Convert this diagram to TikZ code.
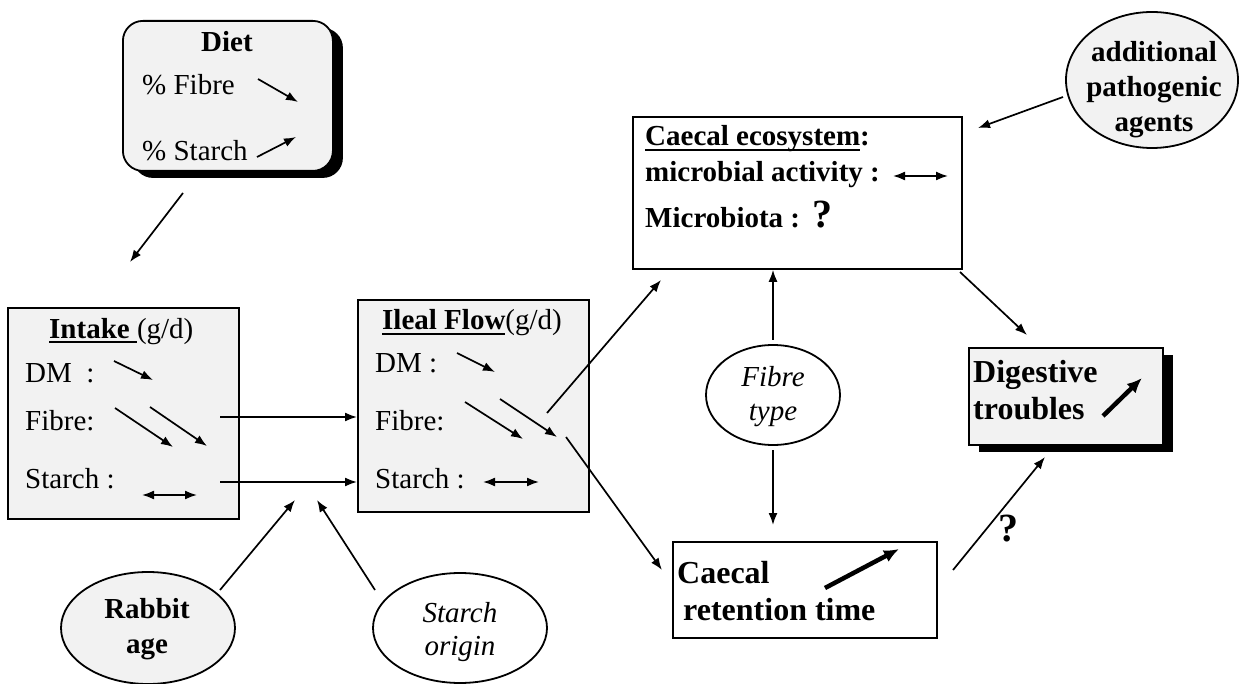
\documentclass[tikz,border=0pt]{standalone}
\usepackage{fontspec}
\setmainfont{Liberation Serif}
\usetikzlibrary{arrows.meta,shapes.geometric,shadows}
\definecolor{boxgray}{HTML}{F2F2F2}
\newcommand\myul[1]{\setbox0\hbox{#1}\rlap{\rule[-5.5pt]{\wd0}{2pt}}\box0}
\begin{document}
\begin{tikzpicture}[x=1pt,y=-1pt,
  lbl/.style={inner sep=0pt, anchor=base west, font=\fontsize{29}{34}\selectfont},
  blbl/.style={lbl, font=\fontsize{29}{34}\selectfont\bfseries},
  clbl/.style={inner sep=0pt, anchor=base, font=\fontsize{29}{34}\selectfont},
  cblbl/.style={clbl, font=\fontsize{29}{34}\selectfont\bfseries},
  cilbl/.style={clbl, font=\fontsize{29}{34}\selectfont\itshape},
  biglbl/.style={lbl, font=\fontsize{32}{38}\selectfont\bfseries},
  qlbl/.style={lbl, font=\fontsize{40}{44}\selectfont\bfseries},
  box/.style={draw, line width=1.8pt, fill=boxgray, inner sep=0pt, anchor=north west},
  wbox/.style={box, fill=white},
  shad/.style={general shadow={fill=black, shadow xshift=10pt, shadow yshift=-7pt}},
  oval/.style={ellipse, draw, line width=1.8pt, fill=boxgray, inner sep=0pt},
  woval/.style={oval, fill=white},
  conn/.style={line width=1.7pt, -{Latex[length=12pt,width=9pt]}},
  dbl/.style={line width=1.7pt, {Latex[length=12pt,width=9pt]}-{Latex[length=12pt,width=9pt]}},
  thk/.style={line width=4.5pt, -{Latex[length=15pt,width=13pt]}}
]
\useasboundingbox (0,0) rectangle (1239,684);

% ---------- boxes ----------
\node[box, shad, rounded corners=20pt, minimum width=210pt, minimum height=150pt] (diet) at (122,20) {};
\node[box, minimum width=231pt, minimum height=211pt] (intake) at (7,307) {};
\node[box, minimum width=231pt, minimum height=212pt] (ileal) at (357,299) {};
\node[wbox, minimum width=329pt, minimum height=152pt] (eco) at (632,116) {};
\node[wbox, minimum width=264pt, minimum height=96pt] (ret) at (672,541) {};
\node[box, shad, minimum width=194pt, minimum height=97pt] (dig) at (968,347) {};

% ---------- ellipses ----------
\node[oval, minimum width=174pt, minimum height=112pt] (rabbit) at (148,628) {};
\node[woval, minimum width=174pt, minimum height=110pt] (starch) at (460,628) {};
\node[woval, minimum width=134pt, minimum height=100pt] (ftype) at (773,395) {};
\node[oval, minimum width=172pt, minimum height=136pt] (addl) at (1152,80) {};

% ---------- Diet ----------
\node[cblbl] (dietT) at (227,52) {Diet};
\node[lbl] (dietF) at (142,95) {\% Fibre};
\node[lbl] (dietS) at (142,161) {\% Starch};
\coordinate (dfa) at (258,79); \coordinate (dfb) at (298,102);
\coordinate (dsa) at (257,157); \coordinate (dsb) at (296,137);
\draw[conn] (dfa) -- (dfb);
\draw[conn] (dsa) -- (dsb);

% ---------- Intake ----------
\node[lbl] (inT) at (49,338) {\myul{\textbf{Intake}\ }(g/d)};
\node[lbl] (inDM) at (25,382) {DM\ \ :};
\node[lbl] (inF) at (25,430) {Fibre:};
\node[lbl] (inS) at (25,488) {Starch :};
\coordinate (i1a) at (114,361); \coordinate (i1b) at (153,380);
\coordinate (i2a) at (115,408); \coordinate (i2b) at (173,447);
\coordinate (i3a) at (150,407); \coordinate (i3b) at (207,446);
\coordinate (i4a) at (142,495); \coordinate (i4b) at (197,495);
\draw[conn] (i1a) -- (i1b);
\draw[conn] (i2a) -- (i2b);
\draw[conn] (i3a) -- (i3b);
\draw[dbl] (i4a) -- (i4b);

% ---------- Ileal flow ----------
\node[lbl] (ilT) at (382,330) {\myul{\textbf{Ileal Flow}}(g/d)};
\node[lbl] (ilDM) at (375,373) {DM :};
\node[lbl] (ilF) at (375,430) {Fibre:};
\node[lbl] (ilS) at (375,488) {Starch :};
\coordinate (l1a) at (457,353); \coordinate (l1b) at (495,372);
\coordinate (l2a) at (465,402); \coordinate (l2b) at (523,439);
\coordinate (l3a) at (500,399); \coordinate (l3b) at (557,437);
\coordinate (l4a) at (483,482); \coordinate (l4b) at (539,482);
\draw[conn] (l1a) -- (l1b);
\draw[conn] (l2a) -- (l2b);
\draw[conn] (l3a) -- (l3b);
\draw[dbl] (l4a) -- (l4b);

% ---------- Caecal ecosystem ----------
\node[blbl] (ecoT) at (645,146) {\myul{Caecal ecosystem}:};
\node[blbl] (ecoA) at (645,182) {microbial activity :};
\node[blbl] (ecoM) at (645,228) {Microbiota :};
\node[qlbl] (ecoQ) at (812,228) {?};
\coordinate (e1a) at (893,176); \coordinate (e1b) at (948,176);
\draw[dbl] (e1a) -- (e1b);

% ---------- Caecal retention ----------
\node[biglbl] (retA) at (677,583) {Caecal};
\node[biglbl] (retB) at (683,620) {retention time};
\coordinate (r1a) at (825,588); \coordinate (r1b) at (899,549);
\draw[thk] (r1a) -- (r1b);

% ---------- Digestive troubles ----------
\node[biglbl] (digA) at (973,382) {Digestive};
\node[biglbl] (digB) at (973,419) {troubles};
\coordinate (g1a) at (1103,416); \coordinate (g1b) at (1142,378);
\draw[thk] (g1a) -- (g1b);

% ---------- ellipse texts ----------
\node[cblbl] (rabA) at (147,618) {Rabbit};
\node[cblbl] (rabB) at (147,653) {age};
\node[cilbl] (stA) at (460,622) {Starch};
\node[cilbl] (stB) at (460,655) {origin};
\node[cilbl] (ftA) at (773,386) {Fibre};
\node[cilbl] (ftB) at (773,420) {type};
\node[cblbl] (adA) at (1154,62) {additional};
\node[cblbl] (adB) at (1154,97) {pathogenic};
\node[cblbl] (adC) at (1154,132) {agents};

% ---------- connectors ----------
\coordinate (c1a) at (183,193); \coordinate (c1b) at (130,262);
\draw[conn] (c1a) -- (c1b);
\coordinate (c2a) at (220,417); \coordinate (c3a) at (220,482);
\draw[conn] (c2a) -- (c2a -| ileal.west);
\draw[conn] (c3a) -- (c3a -| ileal.west);
\coordinate (c4a) at (220,590); \coordinate (c4b) at (295,500);
\draw[conn] (c4a) -- (c4b);
\coordinate (c5a) at (375,590); \coordinate (c5b) at (317,500);
\draw[conn] (c5a) -- (c5b);
\coordinate (c6a) at (547,413); \coordinate (c6b) at (661,280);
\draw[conn] (c6a) -- (c6b);
\coordinate (c7a) at (566,437); \coordinate (c7b) at (662,570);
\draw[conn] (c7a) -- (c7b);
\coordinate (c8a) at (773,340);
\draw[conn] (c8a) -- (c8a |- eco.south);
\coordinate (c9a) at (773,450); \coordinate (c9b) at (773,525);
\draw[conn] (c9a) -- (c9b);
\coordinate (c10a) at (960,272); \coordinate (c10b) at (1027,335);
\draw[conn] (c10a) -- (c10b);
\coordinate (c11a) at (1063,97); \coordinate (c11b) at (978,128);
\draw[conn] (c11a) -- (c11b);
\coordinate (c12a) at (953,570); \coordinate (c12b) at (1045,457);
\draw[conn] (c12a) -- (c12b);
\node[qlbl] (retQ) at (998,541) {?};
\end{tikzpicture}
\end{document}
